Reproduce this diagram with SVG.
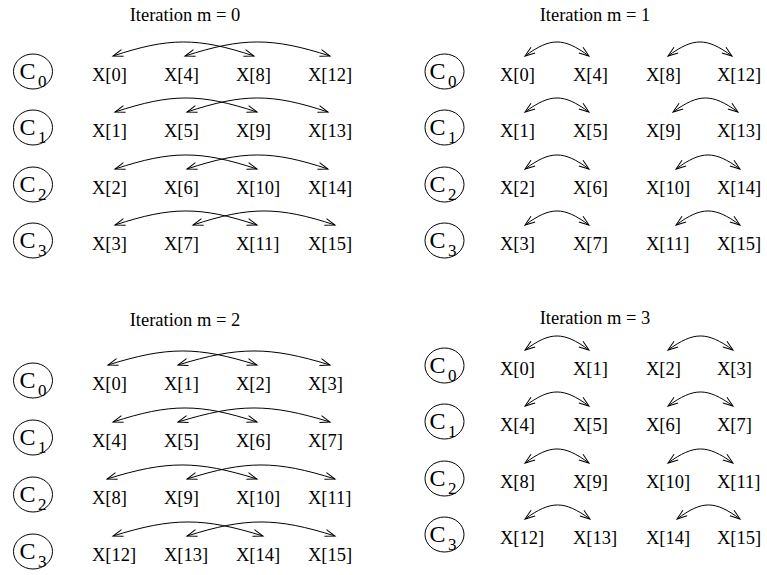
<svg xmlns="http://www.w3.org/2000/svg" width="767" height="575" viewBox="0 0 767 575" font-family="'Liberation Serif', 'Times New Roman', 'DejaVu Serif', serif">
  <style>
    text { font-family: 'Liberation Serif', 'Times New Roman', 'DejaVu Serif', serif; fill: #000; }
    .title { font-size: 18.5px; text-anchor: middle; }
    .lbl { font-size: 18.5px; }
    .cbig { font-size: 24px; }
    .csub { font-size: 17px; }
    .ring { fill: none; stroke: #000; stroke-width: 1; }
    .arc { fill: none; stroke: #000; stroke-width: 1; marker-start: url(#ah); marker-end: url(#ah); }
  </style>
  <defs>
    <!-- open V arrowhead used at both ends of every exchange arc -->
    <marker id="ah" viewBox="0 0 10 7" refX="10" refY="3.5" markerWidth="10" markerHeight="7" markerUnits="userSpaceOnUse" orient="auto-start-reverse" overflow="visible">
      <path d="M0,0 L10,3.5 L0,7" fill="none" stroke="#000" stroke-width="1"/>
    </marker>
    <!-- processor circle, placed at each row's centre -->
    <ellipse id="ring" cx="0" cy="0" rx="19.5" ry="17.5" class="ring"/>
  </defs>

  <rect width="767" height="575" fill="#fff"/>

  <!-- titles -->
  <text class="title" x="185" y="21">Iteration m = 0</text>
  <text class="title" x="595" y="21">Iteration m = 1</text>
  <text class="title" x="185" y="326">Iteration m = 2</text>
  <text class="title" x="595" y="324">Iteration m = 3</text>

  <!-- ===== Iteration m = 0 ===== -->
  <g id="m0-c0"><use href="#ring" x="33" y="71.5"/><text class="cbig" x="19.5" y="79">C</text><text class="csub" x="38" y="87">0</text></g>
  <g id="m0-c1"><use href="#ring" x="33" y="127.5"/><text class="cbig" x="19.5" y="135">C</text><text class="csub" x="38" y="143">1</text></g>
  <g id="m0-c2"><use href="#ring" x="33" y="184.5"/><text class="cbig" x="19.5" y="192">C</text><text class="csub" x="38" y="200">2</text></g>
  <g id="m0-c3"><use href="#ring" x="33" y="240.5"/><text class="cbig" x="19.5" y="248">C</text><text class="csub" x="38" y="256">3</text></g>

  <g id="m0-x0"><text class="lbl" x="92" y="81">X[0]</text></g>
  <g id="m0-x4"><text class="lbl" x="164" y="81">X[4]</text></g>
  <g id="m0-x8"><text class="lbl" x="236" y="81">X[8]</text></g>
  <g id="m0-x12"><text class="lbl" x="308" y="81">X[12]</text></g>
  <g id="m0-x1"><text class="lbl" x="92" y="137">X[1]</text></g>
  <g id="m0-x5"><text class="lbl" x="164" y="137">X[5]</text></g>
  <g id="m0-x9"><text class="lbl" x="236" y="137">X[9]</text></g>
  <g id="m0-x13"><text class="lbl" x="308" y="137">X[13]</text></g>
  <g id="m0-x2"><text class="lbl" x="92" y="194">X[2]</text></g>
  <g id="m0-x6"><text class="lbl" x="164" y="194">X[6]</text></g>
  <g id="m0-x10"><text class="lbl" x="236" y="194">X[10]</text></g>
  <g id="m0-x14"><text class="lbl" x="308" y="194">X[14]</text></g>
  <g id="m0-x3"><text class="lbl" x="92" y="250">X[3]</text></g>
  <g id="m0-x7"><text class="lbl" x="164" y="250">X[7]</text></g>
  <g id="m0-x11"><text class="lbl" x="236" y="250">X[11]</text></g>
  <g id="m0-x15"><text class="lbl" x="308" y="250">X[15]</text></g>

  <!-- ===== Iteration m = 1 ===== -->
  <g id="m1-c0"><use href="#ring" x="444.5" y="71.5"/><text class="cbig" x="429.5" y="79">C</text><text class="csub" x="448" y="87">0</text></g>
  <g id="m1-c1"><use href="#ring" x="444.5" y="127.5"/><text class="cbig" x="429.5" y="135">C</text><text class="csub" x="448" y="143">1</text></g>
  <g id="m1-c2"><use href="#ring" x="444.5" y="184.5"/><text class="cbig" x="429.5" y="192">C</text><text class="csub" x="448" y="200">2</text></g>
  <g id="m1-c3"><use href="#ring" x="444.5" y="240.5"/><text class="cbig" x="429.5" y="248">C</text><text class="csub" x="448" y="256">3</text></g>

  <g id="m1-x0"><text class="lbl" x="500" y="81">X[0]</text></g>
  <g id="m1-x4"><text class="lbl" x="573" y="81">X[4]</text></g>
  <g id="m1-x8"><text class="lbl" x="646" y="81">X[8]</text></g>
  <g id="m1-x12"><text class="lbl" x="717" y="81">X[12]</text></g>
  <g id="m1-x1"><text class="lbl" x="500" y="137">X[1]</text></g>
  <g id="m1-x5"><text class="lbl" x="573" y="137">X[5]</text></g>
  <g id="m1-x9"><text class="lbl" x="646" y="137">X[9]</text></g>
  <g id="m1-x13"><text class="lbl" x="717" y="137">X[13]</text></g>
  <g id="m1-x2"><text class="lbl" x="500" y="194">X[2]</text></g>
  <g id="m1-x6"><text class="lbl" x="573" y="194">X[6]</text></g>
  <g id="m1-x10"><text class="lbl" x="646" y="194">X[10]</text></g>
  <g id="m1-x14"><text class="lbl" x="717" y="194">X[14]</text></g>
  <g id="m1-x3"><text class="lbl" x="500" y="250">X[3]</text></g>
  <g id="m1-x7"><text class="lbl" x="573" y="250">X[7]</text></g>
  <g id="m1-x11"><text class="lbl" x="646" y="250">X[11]</text></g>
  <g id="m1-x15"><text class="lbl" x="717" y="250">X[15]</text></g>

  <!-- ===== Iteration m = 2 ===== -->
  <g id="m2-c0"><use href="#ring" x="33" y="380.5"/><text class="cbig" x="19.5" y="388">C</text><text class="csub" x="38" y="396">0</text></g>
  <g id="m2-c1"><use href="#ring" x="33" y="437.5"/><text class="cbig" x="19.5" y="445">C</text><text class="csub" x="38" y="453">1</text></g>
  <g id="m2-c2"><use href="#ring" x="33" y="494.5"/><text class="cbig" x="19.5" y="502">C</text><text class="csub" x="38" y="510">2</text></g>
  <g id="m2-c3"><use href="#ring" x="33" y="551.5"/><text class="cbig" x="19.5" y="559">C</text><text class="csub" x="38" y="567">3</text></g>

  <g id="m2-x0"><text class="lbl" x="92" y="390">X[0]</text></g>
  <g id="m2-x1"><text class="lbl" x="164" y="390">X[1]</text></g>
  <g id="m2-x2"><text class="lbl" x="236" y="390">X[2]</text></g>
  <g id="m2-x3"><text class="lbl" x="308" y="390">X[3]</text></g>
  <g id="m2-x4"><text class="lbl" x="92" y="447">X[4]</text></g>
  <g id="m2-x5"><text class="lbl" x="164" y="447">X[5]</text></g>
  <g id="m2-x6"><text class="lbl" x="236" y="447">X[6]</text></g>
  <g id="m2-x7"><text class="lbl" x="308" y="447">X[7]</text></g>
  <g id="m2-x8"><text class="lbl" x="92" y="504">X[8]</text></g>
  <g id="m2-x9"><text class="lbl" x="164" y="504">X[9]</text></g>
  <g id="m2-x10"><text class="lbl" x="236" y="504">X[10]</text></g>
  <g id="m2-x11"><text class="lbl" x="308" y="504">X[11]</text></g>
  <g id="m2-x12"><text class="lbl" x="92" y="561">X[12]</text></g>
  <g id="m2-x13"><text class="lbl" x="164" y="561">X[13]</text></g>
  <g id="m2-x14"><text class="lbl" x="236" y="561">X[14]</text></g>
  <g id="m2-x15"><text class="lbl" x="308" y="561">X[15]</text></g>

  <!-- ===== Iteration m = 3 ===== -->
  <g id="m3-c0"><use href="#ring" x="444.5" y="365.5"/><text class="cbig" x="429.5" y="373">C</text><text class="csub" x="448" y="381">0</text></g>
  <g id="m3-c1"><use href="#ring" x="444.5" y="421.5"/><text class="cbig" x="429.5" y="429">C</text><text class="csub" x="448" y="437">1</text></g>
  <g id="m3-c2"><use href="#ring" x="444.5" y="478.5"/><text class="cbig" x="429.5" y="486">C</text><text class="csub" x="448" y="494">2</text></g>
  <g id="m3-c3"><use href="#ring" x="444.5" y="534.5"/><text class="cbig" x="429.5" y="542">C</text><text class="csub" x="448" y="550">3</text></g>

  <g id="m3-x0"><text class="lbl" x="500" y="375">X[0]</text></g>
  <g id="m3-x1"><text class="lbl" x="573" y="375">X[1]</text></g>
  <g id="m3-x2"><text class="lbl" x="646" y="375">X[2]</text></g>
  <g id="m3-x3"><text class="lbl" x="717" y="375">X[3]</text></g>
  <g id="m3-x4"><text class="lbl" x="500" y="431">X[4]</text></g>
  <g id="m3-x5"><text class="lbl" x="573" y="431">X[5]</text></g>
  <g id="m3-x6"><text class="lbl" x="646" y="431">X[6]</text></g>
  <g id="m3-x7"><text class="lbl" x="717" y="431">X[7]</text></g>
  <g id="m3-x8"><text class="lbl" x="500" y="488">X[8]</text></g>
  <g id="m3-x9"><text class="lbl" x="573" y="488">X[9]</text></g>
  <g id="m3-x10"><text class="lbl" x="646" y="488">X[10]</text></g>
  <g id="m3-x11"><text class="lbl" x="717" y="488">X[11]</text></g>
  <g id="m3-x12"><text class="lbl" x="500" y="544">X[12]</text></g>
  <g id="m3-x13"><text class="lbl" x="573" y="544">X[13]</text></g>
  <g id="m3-x14"><text class="lbl" x="646" y="544">X[14]</text></g>
  <g id="m3-x15"><text class="lbl" x="717" y="544">X[15]</text></g>

  <!-- exchange arcs, double-headed -->
  <g id="connectors">
    <!-- m = 0 -->
    <path class="arc" d="M113,56 C169.4,37.3 197.6,37.3 254,56"/>
    <path class="arc" d="M185,56 C243,37.3 272,37.3 330,56"/>
    <path class="arc" d="M115,112 C171.8,93.3 200.2,93.3 257,112"/>
    <path class="arc" d="M187,112 C243.4,93.3 271.6,93.3 328,112"/>
    <path class="arc" d="M115,169 C171.8,150.3 200.2,150.3 257,169"/>
    <path class="arc" d="M187,169 C243.4,150.3 271.6,150.3 328,169"/>
    <path class="arc" d="M115,225 C171.8,206.3 200.2,206.3 257,225"/>
    <path class="arc" d="M193,225 C249.8,206.3 278.2,206.3 335,225"/>
    <!-- m = 1 -->
    <path class="arc" d="M525,56 C550.6,37.3 563.4,37.3 589,56"/>
    <path class="arc" d="M668,56 C693.6,37.3 706.4,37.3 732,56"/>
    <path class="arc" d="M525,112 C550.6,93.3 563.4,93.3 589,112"/>
    <path class="arc" d="M673,112 C699,93.3 712,93.3 738,112"/>
    <path class="arc" d="M525,169 C550.6,150.3 563.4,150.3 589,169"/>
    <path class="arc" d="M676,169 C701.6,150.3 714.4,150.3 740,169"/>
    <path class="arc" d="M525,225 C550.6,206.3 563.4,206.3 589,225"/>
    <path class="arc" d="M676,225 C701.6,206.3 714.4,206.3 740,225"/>
    <!-- m = 2 -->
    <path class="arc" d="M108,365 C167.6,346.3 197.4,346.3 257,365"/>
    <path class="arc" d="M178,365 C238.8,346.3 269.2,346.3 330,365"/>
    <path class="arc" d="M113,422 C170.6,403.3 199.4,403.3 257,422"/>
    <path class="arc" d="M178,422 C238.8,403.3 269.2,403.3 330,422"/>
    <path class="arc" d="M107,479 C167,460.3 197,460.3 257,479"/>
    <path class="arc" d="M187,479 C246.2,460.3 275.8,460.3 335,479"/>
    <path class="arc" d="M113,536 C173,517.3 203,517.3 263,536"/>
    <path class="arc" d="M187,536 C246.2,517.3 275.8,517.3 335,536"/>
    <!-- m = 3 -->
    <path class="arc" d="M525,350 C550.6,331.3 563.4,331.3 589,350"/>
    <path class="arc" d="M668,350 C694,331.3 707,331.3 733,350"/>
    <path class="arc" d="M525,406 C550.6,387.3 563.4,387.3 589,406"/>
    <path class="arc" d="M668,406 C694,387.3 707,387.3 733,406"/>
    <path class="arc" d="M525,463 C550.6,444.3 563.4,444.3 589,463"/>
    <path class="arc" d="M668,463 C694,444.3 707,444.3 733,463"/>
    <path class="arc" d="M525,519 C551,500.3 564,500.3 590,519"/>
    <path class="arc" d="M677,519 C702.2,500.3 714.8,500.3 740,519"/>
  </g>
</svg>
